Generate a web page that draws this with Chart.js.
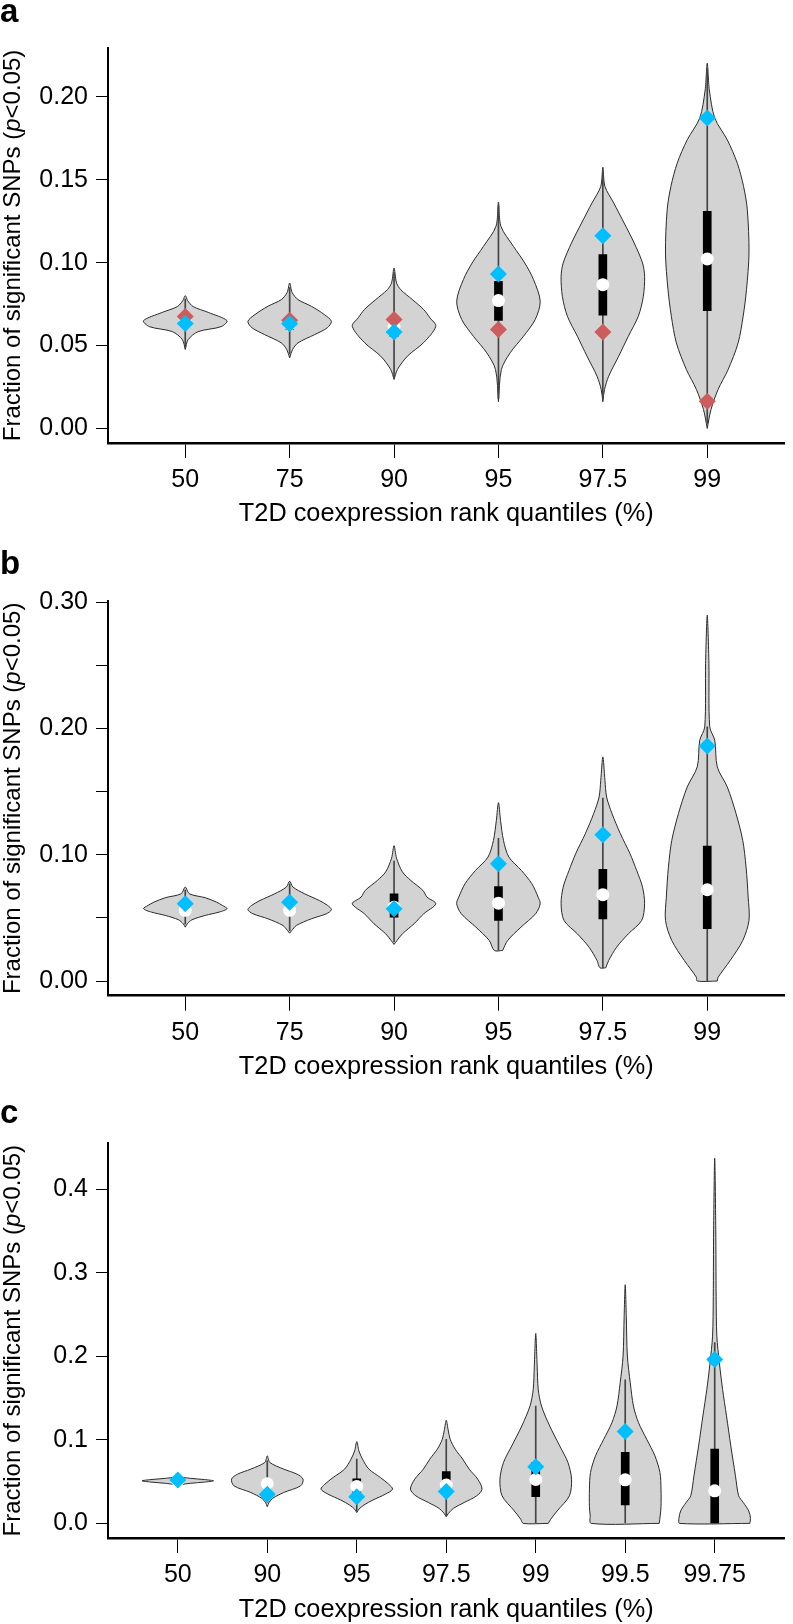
<!DOCTYPE html>
<html>
<head>
<meta charset="utf-8">
<script src="https://cdn.jsdelivr.net/npm/chart.js@4/dist/chart.umd.min.js"></script>
<style>
  html, body { margin: 0; padding: 0; background: #fff; }
  .panel { position: absolute; left: 0; width: 793px; }
</style>
</head>
<body>
<div class="panel" style="top:0px"><canvas id="ca" width="793" height="540"></canvas></div>
<div class="panel" style="top:540px"><canvas id="cb" width="793" height="540"></canvas></div>
<div class="panel" style="top:1080px"><canvas id="cc" width="793" height="544"></canvas></div>
<script>
// ---- panel a ----
const catsA  = ['50', '75', '90', '95', '97.5', '99'];
const medA   = [0.064, 0.0632, 0.0615, 0.0771, 0.0867, 0.1022];
const q1A    = [0.0615, 0.0598, 0.0555, 0.0651, 0.0683, 0.0711];
const q3A    = [0.066, 0.0655, 0.064, 0.0887, 0.1048, 0.1309];
const loA    = [0.049, 0.045, 0.031, 0.018, 0.018, 0.003];
const hiA    = [0.078, 0.085, 0.094, 0.134, 0.154, 0.217];
const blueA  = [0.0633, 0.0631, 0.0582, 0.0932, 0.1163, 0.1872];
const redA   = [0.0675, 0.0652, 0.0657, 0.0596, 0.0582, 0.0164];
const yTicksA  = [0, 0.05, 0.10, 0.15, 0.20];
const yLabelsA = ['0.00', '0.05', '0.10', '0.15', '0.20'];
// violin outlines: [value, relative half width]
const vioA = [
  [[0.0476,0],[0.0536,0.07],[0.0584,0.31],[0.0614,0.86],[0.065,1.0],[0.070,0.55],[0.0735,0.19],[0.077,0.06],[0.0801,0]],
  [[0.0426,0],[0.0476,0.07],[0.0516,0.2],[0.0566,0.6],[0.0607,0.9],[0.0646,1.0],[0.0687,0.83],[0.0737,0.52],[0.0777,0.2],[0.082,0.06],[0.0877,0]],
  [[0.0295,0],[0.0355,0.08],[0.0436,0.32],[0.0518,0.71],[0.0616,1.0],[0.0667,0.86],[0.0717,0.71],[0.0777,0.44],[0.0837,0.16],[0.0878,0.06],[0.0968,0]],
  [[0.0161,0],[0.0355,0.07],[0.0456,0.28],[0.0556,0.6],[0.0657,0.88],[0.0767,1.0],[0.0898,0.84],[0.0998,0.63],[0.1098,0.36],[0.1219,0.06],[0.1366,0]],
  [[0.0161,0],[0.0235,0.04],[0.0315,0.14],[0.0436,0.38],[0.0556,0.61],[0.0677,0.85],[0.0797,0.97],[0.0917,1.0],[0.0998,0.95],[0.1119,0.75],[0.1239,0.51],[0.136,0.26],[0.146,0.05],[0.1576,0]],
  [[0.0,0],[0.0114,0.09],[0.0235,0.26],[0.0355,0.5],[0.0516,0.74],[0.0677,0.86],[0.0837,0.94],[0.1058,1.0],[0.1319,0.96],[0.146,0.87],[0.160,0.72],[0.1741,0.48],[0.1872,0.18],[0.2042,0.05],[0.2203,0]]
];

// ---- panel b ----
const catsB  = ['50', '75', '90', '95', '97.5', '99'];
const medB   = [0.056, 0.056, 0.0585, 0.0617, 0.0684, 0.0723];
const q1B    = [0.055, 0.055, 0.0506, 0.048, 0.0493, 0.0414];
const q3B    = [0.0585, 0.059, 0.0691, 0.0749, 0.0884, 0.1069];
const loB    = [0.045, 0.040, 0.031, 0.0242, 0.0105, 0.0];
const hiB    = [0.072, 0.077, 0.095, 0.113, 0.145, 0.2013];
const blueB  = [0.0612, 0.0625, 0.0573, 0.0929, 0.1159, 0.1862];
const yTicksB  = [0, 0.05, 0.10, 0.15, 0.20, 0.25, 0.30];
const yLabelsB = ['0.00', '', '0.10', '', '0.20', '', '0.30'];
const vioB = [
  [[0.0427,0],[0.0454,0.05],[0.0485,0.16],[0.052,0.48],[0.0546,0.81],[0.0573,1.0],[0.0599,0.89],[0.0625,0.75],[0.066,0.48],[0.0691,0.1],[0.0744,0]],
  [[0.0379,0],[0.040,0.05],[0.044,0.16],[0.0493,0.52],[0.0533,0.88],[0.0565,1.0],[0.0599,0.91],[0.0638,0.71],[0.0691,0.36],[0.0744,0.08],[0.0791,0]],
  [[0.029,0],[0.0321,0.07],[0.0374,0.2],[0.0454,0.48],[0.0533,0.71],[0.0612,1.0],[0.0665,0.79],[0.0718,0.69],[0.0797,0.4],[0.0865,0.2],[0.0973,0.06],[0.1072,0]],
  [[0.0242,0.1],[0.0321,0.22],[0.0427,0.54],[0.0533,0.89],[0.0612,1.0],[0.0665,0.95],[0.0771,0.8],[0.0876,0.55],[0.0982,0.25],[0.1114,0.12],[0.1273,0.05],[0.1413,0]],
  [[0.0105,0.07],[0.0163,0.14],[0.0268,0.33],[0.0374,0.61],[0.048,0.93],[0.0612,1.0],[0.0744,0.95],[0.0876,0.81],[0.1009,0.65],[0.1167,0.42],[0.1326,0.22],[0.1458,0.09],[0.159,0.05],[0.1775,0]],
  [[0.0,0.24],[0.003,0.26],[0.0163,0.55],[0.0321,0.85],[0.048,1.0],[0.0665,0.98],[0.0902,0.93],[0.1114,0.85],[0.1326,0.69],[0.1537,0.48],[0.1696,0.24],[0.1907,0.18],[0.2013,0.06],[0.2516,0.04],[0.2898,0]]
];

// ---- panel c ----
const catsC  = ['50', '90', '95', '97.5', '99', '99.5', '99.75'];
const medC   = [0.051, 0.0475, 0.0443, 0.0459, 0.0526, 0.0522, 0.039];
const q1C    = [0.050, 0.042, 0.037, 0.036, 0.032, 0.022, 0.0];
const q3C    = [0.052, 0.052, 0.0535, 0.0622, 0.073, 0.085, 0.0889];
const loC    = [0.045, 0.025, 0.015, 0.009, 0.0, 0.0, 0.0];
const hiC    = [0.058, 0.075, 0.077, 0.1008, 0.1406, 0.172, 0.2166];
const blueC  = [0.052, 0.035, 0.032, 0.0383, 0.0679, 0.110, 0.1964];
const yTicksC  = [0, 0.1, 0.2, 0.3, 0.4];
const yLabelsC = ['0.0', '0.1', '0.2', '0.3', '0.4'];
const vioC = [
  [[0.043,0],[0.046,0.06],[0.048,0.35],[0.0495,0.75],[0.051,1.0],[0.0525,0.75],[0.054,0.35],[0.056,0.06],[0.060,0]],
  [[0.020,0],[0.025,0.05],[0.030,0.15],[0.037,0.46],[0.045,0.93],[0.053,1.0],[0.059,0.83],[0.065,0.46],[0.073,0.07],[0.0809,0]],
  [[0.013,0],[0.017,0.06],[0.022,0.2],[0.028,0.45],[0.035,0.8],[0.041,1.0],[0.047,0.89],[0.055,0.66],[0.065,0.34],[0.077,0.16],[0.0869,0.06],[0.098,0]],
  [[0.008,0],[0.012,0.06],[0.018,0.2],[0.025,0.5],[0.033,0.85],[0.041,1.0],[0.053,0.88],[0.065,0.64],[0.077,0.46],[0.0889,0.25],[0.1008,0.11],[0.1128,0.05],[0.1235,0]],
  [[0.0,0.35],[0.005,0.42],[0.015,0.6],[0.033,0.94],[0.053,1.0],[0.073,0.9],[0.0928,0.67],[0.1167,0.39],[0.1406,0.16],[0.1606,0.07],[0.1884,0.04],[0.2276,0]],
  [[0.0,0.95],[0.01,0.98],[0.02,1.0],[0.0411,1.0],[0.061,0.97],[0.0809,0.83],[0.1008,0.6],[0.1208,0.37],[0.1406,0.23],[0.1686,0.14],[0.2004,0.06],[0.2482,0.03],[0.286,0]],
  [[0.0,0.98],[0.006,1.0],[0.015,0.95],[0.025,0.8],[0.033,0.67],[0.057,0.58],[0.0928,0.45],[0.1287,0.33],[0.1606,0.22],[0.1925,0.13],[0.2243,0.06],[0.272,0.04],[0.3517,0.03],[0.4374,0]]
];

const xTitle = 'T2D coexpression rank quantiles (%)';
const yTitleParts = ['Fraction of significant SNPs (', 'p', '<0.05)'];

const FONT = "'Liberation Sans', Arial, Helvetica, sans-serif";
const HW = 0.4;   // max violin half width, in category units
Chart.defaults.font.family = FONT;
Chart.defaults.color = '#000';

// outline of one violin: up the right side, down the left side
function violinPoints(pos, prof) {
  const right = prof.map(p => ({ x: pos + p[1] * HW, y: p[0] }));
  let left = prof.slice().reverse().map(p => ({ x: pos - p[1] * HW, y: p[0] }));
  if (prof[prof.length - 1][1] === 0) left = left.slice(1);
  const pts = right.concat(left);
  if (prof[0][1] !== 0) pts.push(right[0]);
  return pts;
}

function textPlugin(p) {
  return {
    id: 'txt_' + p.letter,
    afterDraw(chart) {
      const ctx = chart.ctx, a = chart.chartArea;
      ctx.save();
      ctx.fillStyle = '#000';
      ctx.font = 'bold 33px ' + FONT;
      ctx.textAlign = 'left';
      ctx.textBaseline = 'alphabetic';
      ctx.fillText(p.letter, 0, p.letterY);

      ctx.font = '25.3px ' + FONT;
      ctx.textAlign = 'center';
      ctx.textBaseline = 'middle';
      ctx.fillText(xTitle, (a.left + a.right) / 2, a.bottom + p.xTitleOff);

      // y title with italic p
      const styles = ['', 'italic ', ''];
      const widths = yTitleParts.map((s, i) => {
        ctx.font = styles[i] + '24px ' + FONT;
        return ctx.measureText(s).width;
      });
      const total = widths.reduce((s, w) => s + w, 0);
      ctx.translate(19.5, (a.top + a.bottom) / 2);
      ctx.rotate(-Math.PI / 2);
      ctx.textAlign = 'left';
      ctx.textBaseline = 'alphabetic';
      let x = -total / 2;
      yTitleParts.forEach((s, i) => {
        ctx.font = styles[i] + '24px ' + FONT;
        ctx.fillText(s, x, 0);
        x += widths[i];
      });
      ctx.restore();
    }
  };
}

function makePanel(p) {
  const n = p.cats.length;
  const ds = [];
  p.shapes.forEach((prof, i) => {
    ds.push({
      type: 'line', data: violinPoints(i + 1, prof), fill: 'shape',
      backgroundColor: '#d3d3d3', borderColor: '#2a2a2a', borderWidth: 1,
      pointRadius: 0, tension: 0.3, order: 50
    });
  });
  ds.push({
    type: 'bar', data: p.cats.map((c, i) => ({ x: i + 1, y: [p.lo[i], p.hi[i]] })),
    backgroundColor: '#444', barThickness: 1, grouped: false, order: 40
  });
  ds.push({
    type: 'bar', data: p.cats.map((c, i) => ({ x: i + 1, y: [p.q1[i], p.q3[i]] })),
    backgroundColor: '#000', barThickness: 8, grouped: false, order: 30
  });
  ds.push({
    type: 'scatter', data: p.cats.map((c, i) => ({ x: i + 1, y: p.med[i] })),
    pointStyle: 'circle', pointRadius: 6.5, backgroundColor: '#fff', borderWidth: 0, order: 20
  });
  if (p.red) {
    ds.push({
      type: 'scatter', data: p.cats.map((c, i) => ({ x: i + 1, y: p.red[i] })),
      pointStyle: 'rectRot', pointRadius: 8.5, backgroundColor: '#cd5c5c', borderWidth: 0, order: 10
    });
  }
  ds.push({
    type: 'scatter', data: p.cats.map((c, i) => ({ x: i + 1, y: p.blue[i] })),
    pointStyle: 'rectRot', pointRadius: 8.5, backgroundColor: '#00bfff', borderWidth: 0, order: 5
  });

  new Chart(document.getElementById(p.id), {
    type: 'scatter',
    data: { datasets: ds },
    options: {
      responsive: false,
      animation: false,
      events: [],
      layout: { padding: { top: p.top, right: 2, left: 0, bottom: 0 } },
      plugins: { legend: { display: false }, tooltip: { enabled: false } },
      scales: {
        x: {
          type: 'linear',
          offset: false,
          min: 0.5 - 0.04 * n, max: n + 0.5 + 0.04 * n,
          afterBuildTicks: s => { s.ticks = p.cats.map((c, i) => ({ value: i + 1 })); },
          afterFit: s => { s.height = p.H - p.bottom; },
          ticks: {
            autoSkip: false, maxRotation: 0, padding: 7,
            font: { size: 25 }, color: '#000',
            callback: v => p.cats[Math.round(v) - 1]
          },
          grid: { display: true, offset: false, drawOnChartArea: false, drawTicks: true, tickLength: 15, color: '#000', lineWidth: 1 },
          border: { display: true, color: '#000', width: 2.5 }
        },
        y: {
          type: 'linear',
          min: p.ymin, max: p.ymax,
          afterBuildTicks: s => { s.ticks = p.yTicks.map(v => ({ value: v })); },
          afterFit: s => { s.width = 108; },
          ticks: {
            autoSkip: false, padding: 8,
            font: { size: 25 }, color: '#000',
            callback: (v, i) => p.yLabels[i]
          },
          grid: { display: true, drawOnChartArea: false, drawTicks: true, tickLength: 12, color: '#000', lineWidth: 1 },
          border: { display: true, color: '#000', width: 2 }
        }
      }
    },
    plugins: [textPlugin(p)]
  });
}

makePanel({ id: 'ca', H: 540, top: 48, bottom: 443, letter: 'a', letterY: 22, xTitleOff: 71,
  cats: catsA, ymin: -0.0088, ymax: 0.2295, yTicks: yTicksA, yLabels: yLabelsA,
  shapes: vioA, med: medA, q1: q1A, q3: q3A, lo: loA, hi: hiA, blue: blueA, red: redA });

makePanel({ id: 'cb', H: 540, top: 61, bottom: 455.7, letter: 'b', letterY: 34, xTitleOff: 71,
  cats: catsB, ymin: -0.0116, ymax: 0.301, yTicks: yTicksB, yLabels: yLabelsB,
  shapes: vioB, med: medB, q1: q1B, q3: q3B, lo: loB, hi: hiB, blue: blueB, red: null });

makePanel({ id: 'cc', H: 544, top: 63.4, bottom: 458, letter: 'c', letterY: 43, xTitleOff: 72,
  cats: catsC, ymin: -0.0175, ymax: 0.4552, yTicks: yTicksC, yLabels: yLabelsC,
  shapes: vioC, med: medC, q1: q1C, q3: q3C, lo: loC, hi: hiC, blue: blueC, red: null });
</script>
</body>
</html>
